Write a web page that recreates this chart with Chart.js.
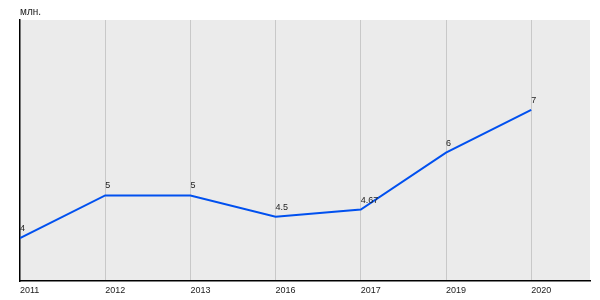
<!DOCTYPE html>
<html>
<head>
<meta charset="utf-8">
<script src="https://cdn.jsdelivr.net/npm/chart.js@4/dist/chart.umd.min.js"></script>
<style>
  html, body { margin: 0; padding: 0; background: #fff; }
  #wrap { width: 600px; height: 300px; }
</style>
</head>
<body>
<div id="wrap"><canvas id="chart"></canvas></div>
<script>
  const years = ['2011', '2012', '2013', '2016', '2017', '2019', '2020'];
  const values = [4, 5, 5, 4.5, 4.67, 6, 7];
  const unitLabel = 'млн.';

  const points = values.map((v, i) => ({ x: i, y: v }));

  // grey plot background + value labels + unit caption
  const decor = {
    id: 'decor',
    beforeDraw(chart) {
      const { ctx, chartArea: a } = chart;
      ctx.save();
      ctx.fillStyle = '#ebebeb';
      ctx.fillRect(a.left, a.top, a.right - a.left, a.bottom - a.top);
      ctx.restore();
    },
    afterDatasetsDraw(chart) {
      const { ctx, chartArea: a } = chart;
      const meta = chart.getDatasetMeta(0);
      ctx.save();
      ctx.font = '9px Arial, "Liberation Sans", sans-serif';
      ctx.fillStyle = '#222';
      ctx.textAlign = 'left';
      ctx.textBaseline = 'alphabetic';
      meta.data.forEach((pt, i) => {
        ctx.fillText(String(values[i]), pt.x, pt.y - 7);
      });
      ctx.font = '10px Arial, "Liberation Sans", sans-serif';
      ctx.fillText(unitLabel, a.left, 15);
      ctx.restore();
    }
  };

  new Chart(document.getElementById('chart'), {
    type: 'line',
    data: {
      datasets: [{
        data: points,
        borderColor: '#0050ef',
        borderWidth: 2,
        pointRadius: 0,
        tension: 0,
        fill: false
      }]
    },
    options: {
      responsive: true,
      maintainAspectRatio: false,
      animation: false,
      layout: { padding: { left: 20, right: 10, top: 20, bottom: 0 } },
      plugins: { legend: { display: false }, tooltip: { enabled: false } },
      scales: {
        x: {
          type: 'linear',
          min: 0,
          max: 6.69,
          grid: {
            color: (c) => (c.tick && c.tick.value === 0 ? 'rgba(0,0,0,0)' : '#c8c8c8'),
            drawTicks: false
          },
          border: { display: true, color: '#000', width: 1.5 },
          ticks: {
            stepSize: 1,
            autoSkip: false,
            maxRotation: 0,
            align: 'start',
            padding: 5,
            color: '#222',
            font: { family: 'Arial, "Liberation Sans", sans-serif', size: 9, lineHeight: 1 },
            callback: (v) => (Number.isInteger(v) && years[v] !== undefined ? years[v] : '')
          },
          afterBuildTicks: (axis) => {
            axis.ticks = years.map((_, i) => ({ value: i }));
          }
        },
        y: {
          min: 3,
          max: 9.1,
          grid: { display: false, drawTicks: false },
          border: { display: true, color: '#000', width: 1.5 },
          ticks: { display: false }
        }
      }
    },
    plugins: [decor]
  });
</script>
</body>
</html>
